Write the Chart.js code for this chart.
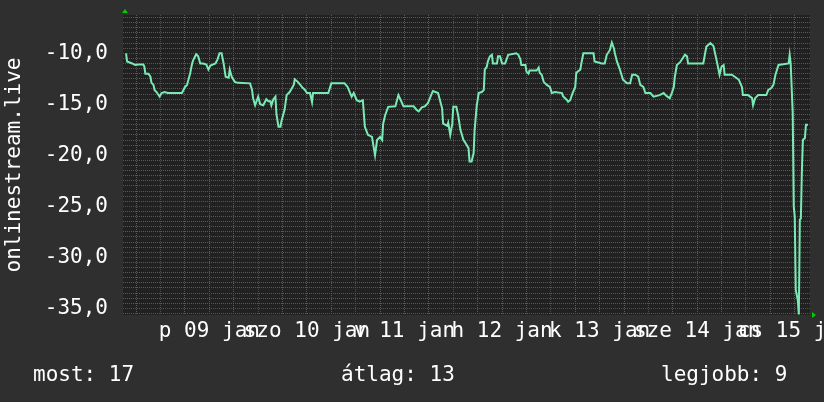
<!DOCTYPE html>
<html>
<head>
<meta charset="utf-8">
<script src="https://cdn.jsdelivr.net/npm/chart.js@4.4.0/dist/chart.umd.min.js"></script>
<style>
  html, body { margin: 0; padding: 0; background: #2f2f2f; }
  canvas { display: block; }
</style>
</head>
<body>
<canvas id="rank" width="824" height="402"></canvas>
<script>
// hours since the left edge of the graph (one week window, Jan 8 afternoon -> Jan 15 evening)
const hours = [
  0.75, 1.0, 2.25, 3.0, 3.75, 5.0, 5.25, 5.5, 6.25, 6.75, 7.0, 7.5, 7.75, 8.25, 9.0, 9.5, 10.25, 11.0,
  14.5, 15.25, 15.75, 16.5, 17.0, 17.25, 18.0, 18.5, 19.0, 19.75, 20.5, 21.0, 21.5, 22.75, 23.25, 23.75,
  24.25, 24.75, 25.25, 26.0, 26.25, 26.75, 27.5, 28.25, 31.25, 31.75, 32.0, 32.5, 33.25, 33.75, 34.5,
  35.25, 35.75, 36.25, 36.5, 37.0, 37.5, 37.75, 38.25, 38.75, 39.0, 39.75, 40.25, 40.75, 41.0, 42.0,
  42.25, 43.0, 44.0, 44.75, 45.25, 46.0, 46.5, 46.75, 50.5, 51.25, 54.5, 55.25, 56.25, 56.75, 57.5,
  58.25, 59.0, 59.5, 60.25, 61.25, 61.5, 62.0, 62.5, 63.25, 63.75, 64.0, 64.5, 65.25, 67.0, 67.75,
  68.5, 69.0, 71.5, 72.25, 72.75, 73.5, 74.25, 75.0, 76.0, 76.25, 77.5, 78.5, 78.75, 79.75, 80.0,
  80.5, 81.0, 81.25, 82.0, 82.5, 83.0, 83.75, 84.25, 85.0, 85.25, 85.75, 86.25, 86.5, 87.0, 87.5,
  88.25, 88.75, 89.0, 89.5, 89.75, 90.25, 90.75, 91.0, 92.0, 92.25, 92.75, 93.25, 94.0, 94.75, 96.75,
  97.25, 97.75, 98.0, 99.0, 99.25, 99.75, 100.0, 101.75, 102.25, 102.5, 103.0, 103.5, 104.25, 105.0,
  105.5, 106.25, 108.0, 108.25, 109.25, 109.5, 110.0, 110.5, 111.25, 111.5, 112.5, 112.75, 113.25,
  115.75, 116.0, 117.75, 118.5, 119.0, 119.75, 120.25, 120.75, 121.0, 121.5, 122.25, 123.0, 124.0,
  124.75, 125.25, 126.0, 126.75, 127.25, 128.0, 128.5, 129.75, 130.5, 132.0, 133.0, 133.75, 134.5,
  135.0, 135.5, 135.75, 136.25, 137.0, 138.25, 138.75, 139.0, 140.25, 141.25, 142.75, 143.5, 144.5,
  145.25, 146.0, 146.75, 147.25, 147.75, 148.0, 149.75, 150.5, 151.5, 152.25, 152.5, 153.75, 154.75,
  155.0, 155.5, 156.25, 158.25, 158.75, 159.5, 160.0, 160.5, 161.25, 163.75, 164.0, 164.25, 164.75,
  165.0, 165.25, 165.5, 166.0, 166.25, 166.5, 166.75, 167.0, 167.25, 167.75, 168.0, 168.5
];
const positions = [
  -10.0, -10.8, -11.0, -11.15, -11.1, -11.1, -11.3, -12.0, -12.0, -12.3, -12.9, -13.1, -13.6, -13.8, -14.25, -13.9, -13.8, -13.9,
  -13.9, -13.3, -13.1, -12.0, -11.0, -10.7, -10.1, -10.3, -11.0, -11.0, -11.1, -11.6, -11.2, -11.0, -10.6, -10.0,
  -10.0, -11.0, -12.3, -12.4, -11.6, -12.3, -12.8, -12.9, -12.95, -13.6, -14.4, -15.1, -14.25, -15.0, -15.1,
  -14.5, -14.7, -14.7, -15.1, -14.5, -14.25, -16.0, -17.2, -17.2, -16.6, -15.55, -14.1, -13.9, -13.8, -13.1,
  -12.55, -12.8, -13.3, -13.6, -13.9, -13.9, -14.8, -13.9, -13.9, -12.95, -12.95, -13.3, -14.25, -13.9, -14.6,
  -14.75, -14.6, -17.2, -18.0, -18.2, -18.8, -20.0, -18.5, -18.2, -18.5, -16.9, -16.05, -15.25, -15.2, -14.1,
  -14.75, -15.2, -15.2, -15.55, -15.7, -15.3, -15.2, -14.9, -13.9, -13.7, -13.9, -15.4, -16.9, -17.1, -16.8,
  -18.0, -16.9, -15.25, -15.25, -16.2, -17.5, -18.5, -18.8, -19.3, -20.6, -20.6, -19.8, -17.5, -15.2, -13.9,
  -13.8, -13.6, -11.6, -11.3, -10.8, -10.3, -10.15, -11.0, -11.0, -10.3, -10.3, -11.0, -11.0, -10.15, -10.0,
  -10.15, -10.6, -11.15, -11.15, -11.8, -12.0, -11.7, -11.7, -11.4, -11.9, -12.1, -12.8, -13.1, -13.3,
  -13.9, -13.8, -13.9, -14.2, -14.6, -14.75, -14.6, -14.0, -13.3, -11.9, -11.6, -11.0, -10.0,
  -10.0, -10.8, -11.0, -11.0, -10.15, -9.7, -8.95, -9.5, -10.0, -10.8, -11.6, -12.6, -12.95,
  -12.95, -12.1, -12.1, -12.3, -13.1, -13.3, -13.9, -13.9, -14.25, -14.1, -13.9, -14.2, -14.4,
  -13.9, -13.3, -12.3, -11.15, -10.9, -10.15, -10.3, -11.0, -11.0, -11.0, -11.0, -9.35, -9.0,
  -9.3, -10.65, -12.1, -11.3, -11.15, -12.1, -12.1, -12.3, -12.6, -13.3, -14.1, -14.1, -14.4,
  -15.1, -14.4, -14.1, -14.1, -13.6, -13.4, -13.1, -12.1, -11.15, -11.0, -10.15, -11.0, -15.9,
  -25.0, -26.0, -33.2, -34.2, -35.6, -26.3, -26.2, -21.6, -18.5, -18.3, -17.0, -17.0
];

// day labels, centred on noon of each day
const dayLabels = ['p 09 jan', 'szo 10 jan', 'v 11 jan', 'h 12 jan', 'k 13 jan', 'sze 14 jan', 'cs 15 jan'];
const dayLabelHours = [21.25, 45.25, 69.25, 93.25, 117.25, 141.25, 165.25];
const midnightHours = [9.25, 33.25, 57.25, 81.25, 105.25, 129.25, 153.25];
const yLabelValues = [-35, -30, -25, -20, -15, -10];
const summary = ['most: 17', 'átlag: 13', 'legjobb: 9'];

const FONT = 'DejaVu Sans Mono';
const TEXT = '#ffffff';
const OUTER = '#2f2f2f';
const PLOT = '#212121';
const MINOR = '#585858';
const MAJOR = '#8e3333';

const rrdLook = {
    id: 'rrdLook',
    beforeDraw(chart) {
        const {ctx, chartArea: a} = chart;
        ctx.save();
        ctx.fillStyle = OUTER;
        ctx.fillRect(0, 0, chart.width, chart.height);
        ctx.fillStyle = PLOT;
        ctx.fillRect(a.left, a.top, a.right - a.left, a.bottom - a.top);
        ctx.restore();
    },
    afterDraw(chart) {
        const {ctx, chartArea: a} = chart;
        ctx.save();
        // little green arrows at the axis ends
        ctx.fillStyle = '#00cc00';
        ctx.beginPath();
        ctx.moveTo(a.left + 2, a.top - 6);
        ctx.lineTo(a.left - 1, a.top - 2);
        ctx.lineTo(a.left + 5, a.top - 2);
        ctx.closePath();
        ctx.fill();
        ctx.beginPath();
        ctx.moveTo(a.right + 6, a.bottom);
        ctx.lineTo(a.right + 2, a.bottom - 3);
        ctx.lineTo(a.right + 2, a.bottom + 3);
        ctx.closePath();
        ctx.fill();
        // summary line under the graph
        ctx.fillStyle = TEXT;
        ctx.font = '21px "' + FONT + '"';
        ctx.textBaseline = 'alphabetic';
        ctx.textAlign = 'left';
        ctx.fillText(summary[0], 33, 381);
        ctx.fillText(summary[1], 341, 381);
        ctx.fillText(summary[2], 661, 381);
        ctx.restore();
    }
};

new Chart(document.getElementById('rank'), {
    type: 'line',
    data: {
        datasets: [{
            data: hours.map((h, i) => ({x: h, y: positions[i]})),
            borderColor: '#7ae9b5',
            borderWidth: 2,
            pointRadius: 0,
            tension: 0,
            fill: false
        }]
    },
    options: {
        responsive: false,
        animation: false,
        layout: {padding: {left: 0, right: 14, top: 15, bottom: 57}},
        plugins: {legend: {display: false}, tooltip: {enabled: false}},
        scales: {
            x: {
                type: 'linear',
                min: 0,
                max: 169,
                afterBuildTicks: scale => {
                    const ticks = [];
                    for (let h = 3.25; h < 169; h += 6) ticks.push({value: h});
                    scale.ticks = ticks;
                },
                afterFit: scale => {
                    scale.height = 30;
                    scale.paddingLeft = 0;
                    scale.paddingRight = 0;
                },
                grid: {
                    color: c => midnightHours.includes(c.tick.value) ? MAJOR : MINOR,
                    lineWidth: 1,
                    drawTicks: false
                },
                border: {display: false, dash: [1, 1]},
                ticks: {
                    autoSkip: false,
                    maxRotation: 0,
                    minRotation: 0,
                    padding: 4,
                    color: TEXT,
                    font: {family: FONT, size: 21},
                    callback: v => {
                        const i = dayLabelHours.indexOf(v);
                        return i >= 0 ? dayLabels[i] : '';
                    }
                }
            },
            y: {
                type: 'linear',
                min: -35.65,
                max: -6.25,
                afterBuildTicks: scale => {
                    const ticks = [];
                    for (let v = -35.5; v <= -6.5; v += 0.5) ticks.push({value: v});
                    scale.ticks = ticks;
                },
                afterFit: scale => {
                    scale.width = 123;
                    scale.paddingTop = 0;
                    scale.paddingBottom = 0;
                },
                grid: {
                    color: c => yLabelValues.includes(c.tick.value) ? MAJOR : MINOR,
                    lineWidth: 1,
                    drawTicks: false
                },
                border: {display: false, dash: [1, 1]},
                ticks: {
                    autoSkip: false,
                    padding: 15,
                    color: TEXT,
                    font: {family: FONT, size: 21},
                    callback: v => yLabelValues.includes(v) ? v.toFixed(1).replace('.', ',') : ''
                },
                title: {
                    display: true,
                    text: 'onlinestream.live',
                    color: TEXT,
                    font: {family: FONT, size: 21},
                    padding: {top: 2, bottom: 0}
                }
            }
        }
    },
    plugins: [rrdLook]
});
</script>
</body>
</html>
